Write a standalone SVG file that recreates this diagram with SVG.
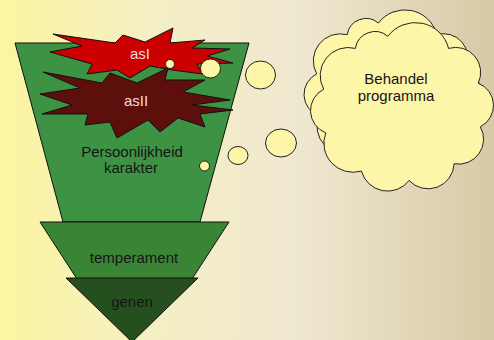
<svg xmlns="http://www.w3.org/2000/svg" width="494" height="340" viewBox="0 0 494 340">
<defs>
<linearGradient id="bg" x1="0" y1="0" x2="1" y2="0">
<stop offset="0" stop-color="#fcf5a0"/>
<stop offset="0.3" stop-color="#f5efc4"/>
<stop offset="0.6" stop-color="#efe8d0"/>
<stop offset="1" stop-color="#d8c9a6"/>
</linearGradient>
<path id="cloud" d="M388.4,39.1 A33,33 0 0 1 446.8,50.7 A24,24 0 0 1 475.3,84.1 A23,23 0 0 1 477.3,126.1 A24,24 0 0 1 452.1,161.6 A25,25 0 0 1 408.8,177.7 A26,26 0 0 1 363,168.6 A28,28 0 0 1 328.7,131.9 A23,23 0 0 1 326.7,89.9 A27,27 0 0 1 357.2,50.7 A19,19 0 0 1 388.4,39.1 Z"/>
</defs>
<style>
.shape{stroke:#111;stroke-width:1}
.bub{fill:#fdf5a8;stroke:#222;stroke-width:1}
.lbl{font-family:"Liberation Sans",Arial,sans-serif;font-size:15px;text-anchor:middle;fill:#151515}
.wl{fill:#f3dcdc}
</style>
<rect width="494" height="340" fill="url(#bg)"/>
<g id="persoonlijkheid">
<polygon class="shape" points="15,43 249,43 200,222 63,222" fill="#3e9244"/>
<text class="lbl" x="132" y="157">Persoonlijkheid</text>
<text class="lbl" x="131" y="173">karakter</text>
</g>
<g id="asI">
<polygon class="shape" points="53,34 115,43 123,35 145,42 173,28 170,43 205,40 192,48 230,49 207,56 233,63 197,64 203,74 172,70 150,66 130,78 117,70 87,74 92,64 50,52 82,46" fill="#cc0000"/>
<text class="lbl wl" x="140" y="59">asI</text>
</g>
<g id="asII">
<polygon class="shape" points="43,72 102,83 110,73 137,83 168,68 165,80 205,80 183,92 230,100 192,105 233,110 200,114 205,127 178,118 160,132 148,120 117,138 110,122 85,125 88,114 42,114 72,105 40,94 80,88" fill="#5c0f0b"/>
<text class="lbl wl" x="136" y="106">asII</text>
</g>
<g id="temperament">
<polygon class="shape" points="40,222 229,222 192,279 77,279" fill="#3a8535"/>
<text class="lbl" x="134" y="263">temperament</text>
</g>
<g id="genen">
<polygon class="shape" points="66,278 198,278 132,342" fill="#264f20"/>
<text class="lbl" x="132" y="307">genen</text>
</g>
<g id="bubbles">
<circle class="bub" cx="170" cy="64" r="4.5"/>
<ellipse class="bub" cx="210.5" cy="68.5" rx="10" ry="9.5"/>
<ellipse class="bub" cx="260.5" cy="75" rx="15" ry="14"/>
<ellipse class="bub" cx="281" cy="143" rx="15.5" ry="14"/>
<ellipse class="bub" cx="238" cy="155.5" rx="10" ry="9"/>
<circle class="bub" cx="204.5" cy="166" r="5"/>
</g>
<g id="behandel">
<use href="#cloud" class="bub" transform="translate(-10,-16)"/>
<use href="#cloud" class="bub" transform="translate(402,108) scale(1.04) translate(-402,-108)" style="stroke-width:0.96"/>
<text class="lbl" x="396" y="84">Behandel</text>
<text class="lbl" x="396" y="101">programma</text>
</g>
</svg>
